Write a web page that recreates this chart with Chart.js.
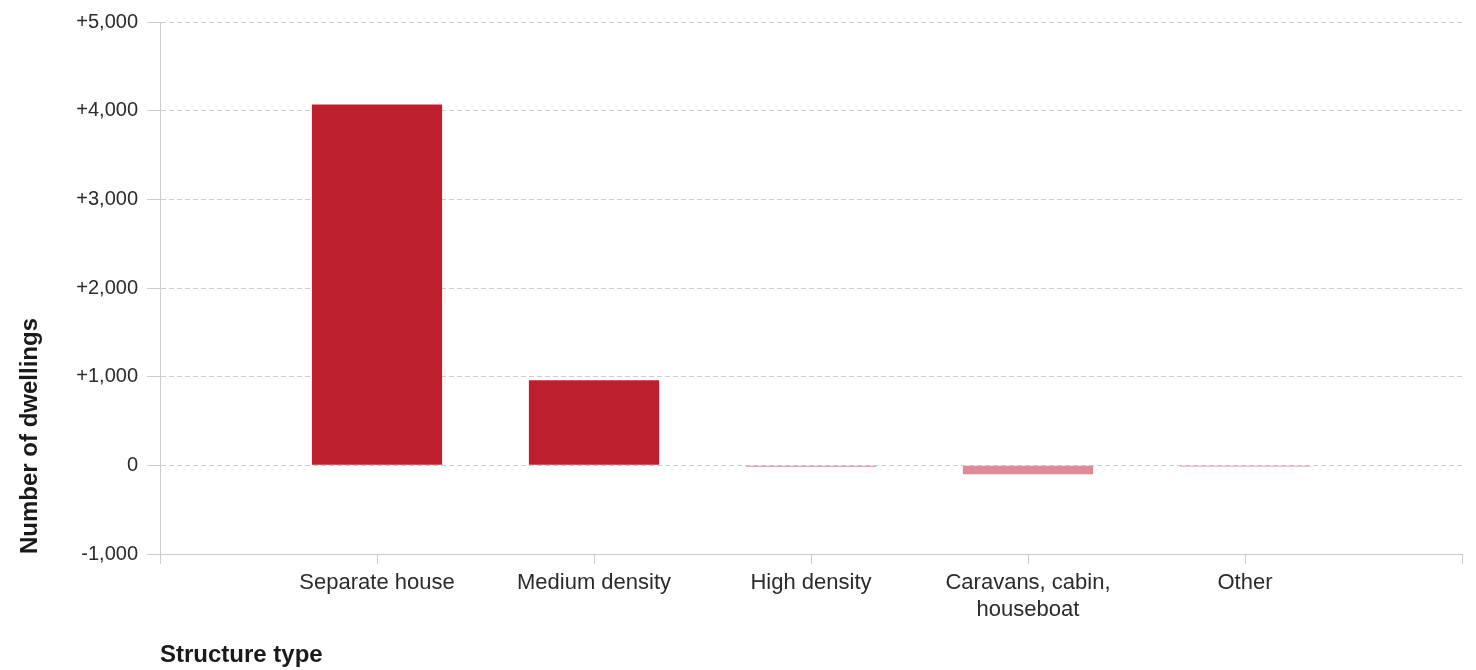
<!DOCTYPE html>
<html>
<head>
<meta charset="utf-8">
<script src="https://cdn.jsdelivr.net/npm/chart.js@4"></script>
<style>
  body { margin: 0; background: #fff; }
  canvas { display: block; }
</style>
</head>
<body>
<canvas id="myChart" width="1476" height="670"></canvas>
<script>
// blank slots at each end so the axis runs past the first and last bar
const categories = ['', 'Separate house', 'Medium density', 'High density', ['Caravans, cabin,', 'houseboat'], 'Other', ''];
const dwellingChange = [null, 4070, 960, -15, -100, -12, null];
const yTicks = [-1000, 0, 1000, 2000, 3000, 4000, 5000];

const posColor = 'rgb(190, 30, 45)';
const negColor = 'rgb(224, 138, 152)';
const gridColor = '#cccccc';
const textColor = '#2b2b2b';

let barColors = dwellingChange.map(v => (v !== null && v < 0) ? negColor : posColor);

function fmtTick(v) {
    let s = Math.abs(v).toLocaleString('en-US');
    if (v > 0) return '+' + s;
    if (v < 0) return '-' + s;
    return '0';
}

new Chart('myChart', {
    type: 'bar',
    data: {
        labels: categories,
        datasets: [{
            data: dwellingChange,
            backgroundColor: barColors,
            borderWidth: 0,
            categoryPercentage: 1,
            barPercentage: 0.6
        }]
    },
    options: {
        responsive: false,
        animation: false,
        devicePixelRatio: 1,
        layout: { padding: { top: 22, right: 14, bottom: 0, left: 0 } },
        plugins: {
            legend: { display: false },
            tooltip: { enabled: false }
        },
        scales: {
            x: {
                offset: false,
                grid: { offset: false, drawOnChartArea: false, drawTicks: true, tickLength: 10, color: gridColor },
                border: { color: gridColor, width: 1 },
                ticks: {
                    color: textColor,
                    padding: 6,
                    maxRotation: 0,
                    autoSkip: false,
                    font: { family: '"Liberation Sans", Arial, sans-serif', size: 22 }
                },
                title: {
                    display: true,
                    text: 'Structure type',
                    align: 'start',
                    color: '#1a1a1a',
                    padding: { top: 0, bottom: 0 },
                    font: { family: '"Liberation Sans", Arial, sans-serif', size: 24, weight: 'bold' }
                },
                afterFit: (scale) => { scale.height = 116; }
            },
            y: {
                min: -1000,
                max: 5000,
                afterBuildTicks: (scale) => { scale.ticks = yTicks.map(v => ({ value: v })); },
                grid: { color: gridColor, tickLength: 13, lineWidth: 1 },
                border: { color: gridColor, width: 1, dash: [5, 3] },
                ticks: {
                    color: textColor,
                    padding: 9,
                    callback: fmtTick,
                    font: { family: '"Liberation Sans", Arial, sans-serif', size: 20 }
                },
                title: {
                    display: true,
                    text: 'Number of dwellings',
                    align: 'start',
                    color: '#1a1a1a',
                    padding: { top: 16, bottom: 0 },
                    font: { family: '"Liberation Sans", Arial, sans-serif', size: 24, weight: 'bold' }
                },
                afterFit: (scale) => { scale.width = 160; }
            }
        }
    }
});
</script>
</body>
</html>
